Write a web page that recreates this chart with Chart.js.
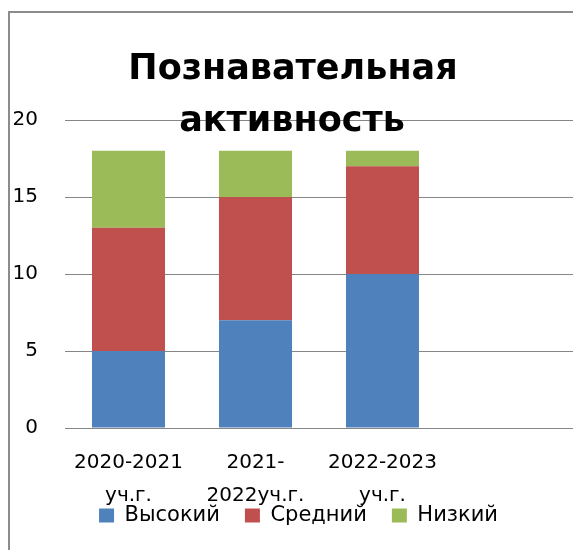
<!DOCTYPE html>
<html>
<head>
<meta charset="utf-8">
<script src="https://cdn.jsdelivr.net/npm/chart.js@4"></script>
<style>
  body { margin: 0; background: #fff; }
  #wrap { width: 573px; height: 550px; }
</style>
</head>
<body>
<div id="wrap"><canvas id="myChart" width="573" height="550"></canvas></div>
<script>
var categories = [["2020-2021", "уч.г."], ["2021-", "2022уч.г."], ["2022-2023", "уч.г."], ""];
var high = [5, 7, 10, null];
var middle = [8, 8, 7, null];
var low = [5, 3, 1, null];
var titleLines = ["Познавательная", "активность"];

var FONT = "'DejaVu Sans', sans-serif";

// рамка, заголовок поверх области графика и сдвиг легенды
var decor = {
  id: "decor",
  afterLayout: function (chart) {
    var lg = chart.legend;
    if (lg) { lg.top -= 30; lg.left += 14; }
  },
  beforeDraw: function (chart) {
    var c = chart.ctx;
    c.save();
    c.strokeStyle = "#8c8c8c";
    c.lineWidth = 2;
    c.beginPath();
    c.moveTo(9, 550);
    c.lineTo(9, 12);
    c.lineTo(573, 12);
    c.stroke();
    c.restore();
  },
  afterDraw: function (chart) {
    var c = chart.ctx;
    c.save();
    c.fillStyle = "#000";
    c.font = "bold 35px " + FONT;
    c.textAlign = "center";
    c.textBaseline = "alphabetic";
    c.fillText(titleLines[0], 293, 79);
    c.fillText(titleLines[1], 292, 131);
    c.restore();
  }
};

document.addEventListener("DOMContentLoaded", function () {
  var ctx = document.getElementById("myChart").getContext("2d");

  var config = {
    type: "bar",
    data: {
      labels: categories,
      datasets: [
        { label: "Высокий", data: high, backgroundColor: "#4F81BD" },
        { label: "Средний", data: middle, backgroundColor: "#C0504D" },
        { label: "Низкий", data: low, backgroundColor: "#9BBB59" }
      ]
    },
    options: {
      responsive: false,
      animation: false,
      layout: { padding: { top: 120, left: 10, right: 0, bottom: 0 } },
      datasets: { bar: { categoryPercentage: 1, barPercentage: 0.575 } },
      plugins: {
        title: { display: false },
        tooltip: { enabled: false },
        legend: {
          position: "bottom",
          maxHeight: 40,
          labels: {
            color: "#000",
            font: { family: FONT, size: 21 },
            boxWidth: 15,
            boxHeight: 14,
            padding: 25
          }
        }
      },
      scales: {
        x: {
          stacked: true,
          grid: { display: false },
          border: { color: "#868686" },
          ticks: {
            color: "#000",
            font: { family: FONT, size: 20, lineHeight: 1.65 },
            maxRotation: 0,
            autoSkip: false,
            padding: 10
          },
          afterFit: function (s) { s.height = 82; }
        },
        y: {
          stacked: true,
          min: 0,
          max: 20,
          border: { display: false },
          grid: { color: "#868686", drawTicks: false },
          ticks: {
            stepSize: 5,
            color: "#000",
            font: { family: FONT, size: 20 },
            padding: 27
          },
          afterFit: function (s) { s.width = 55; }
        }
      }
    },
    plugins: [decor]
  };
  var myChart = new Chart(ctx, config);
});
</script>
</body>
</html>
